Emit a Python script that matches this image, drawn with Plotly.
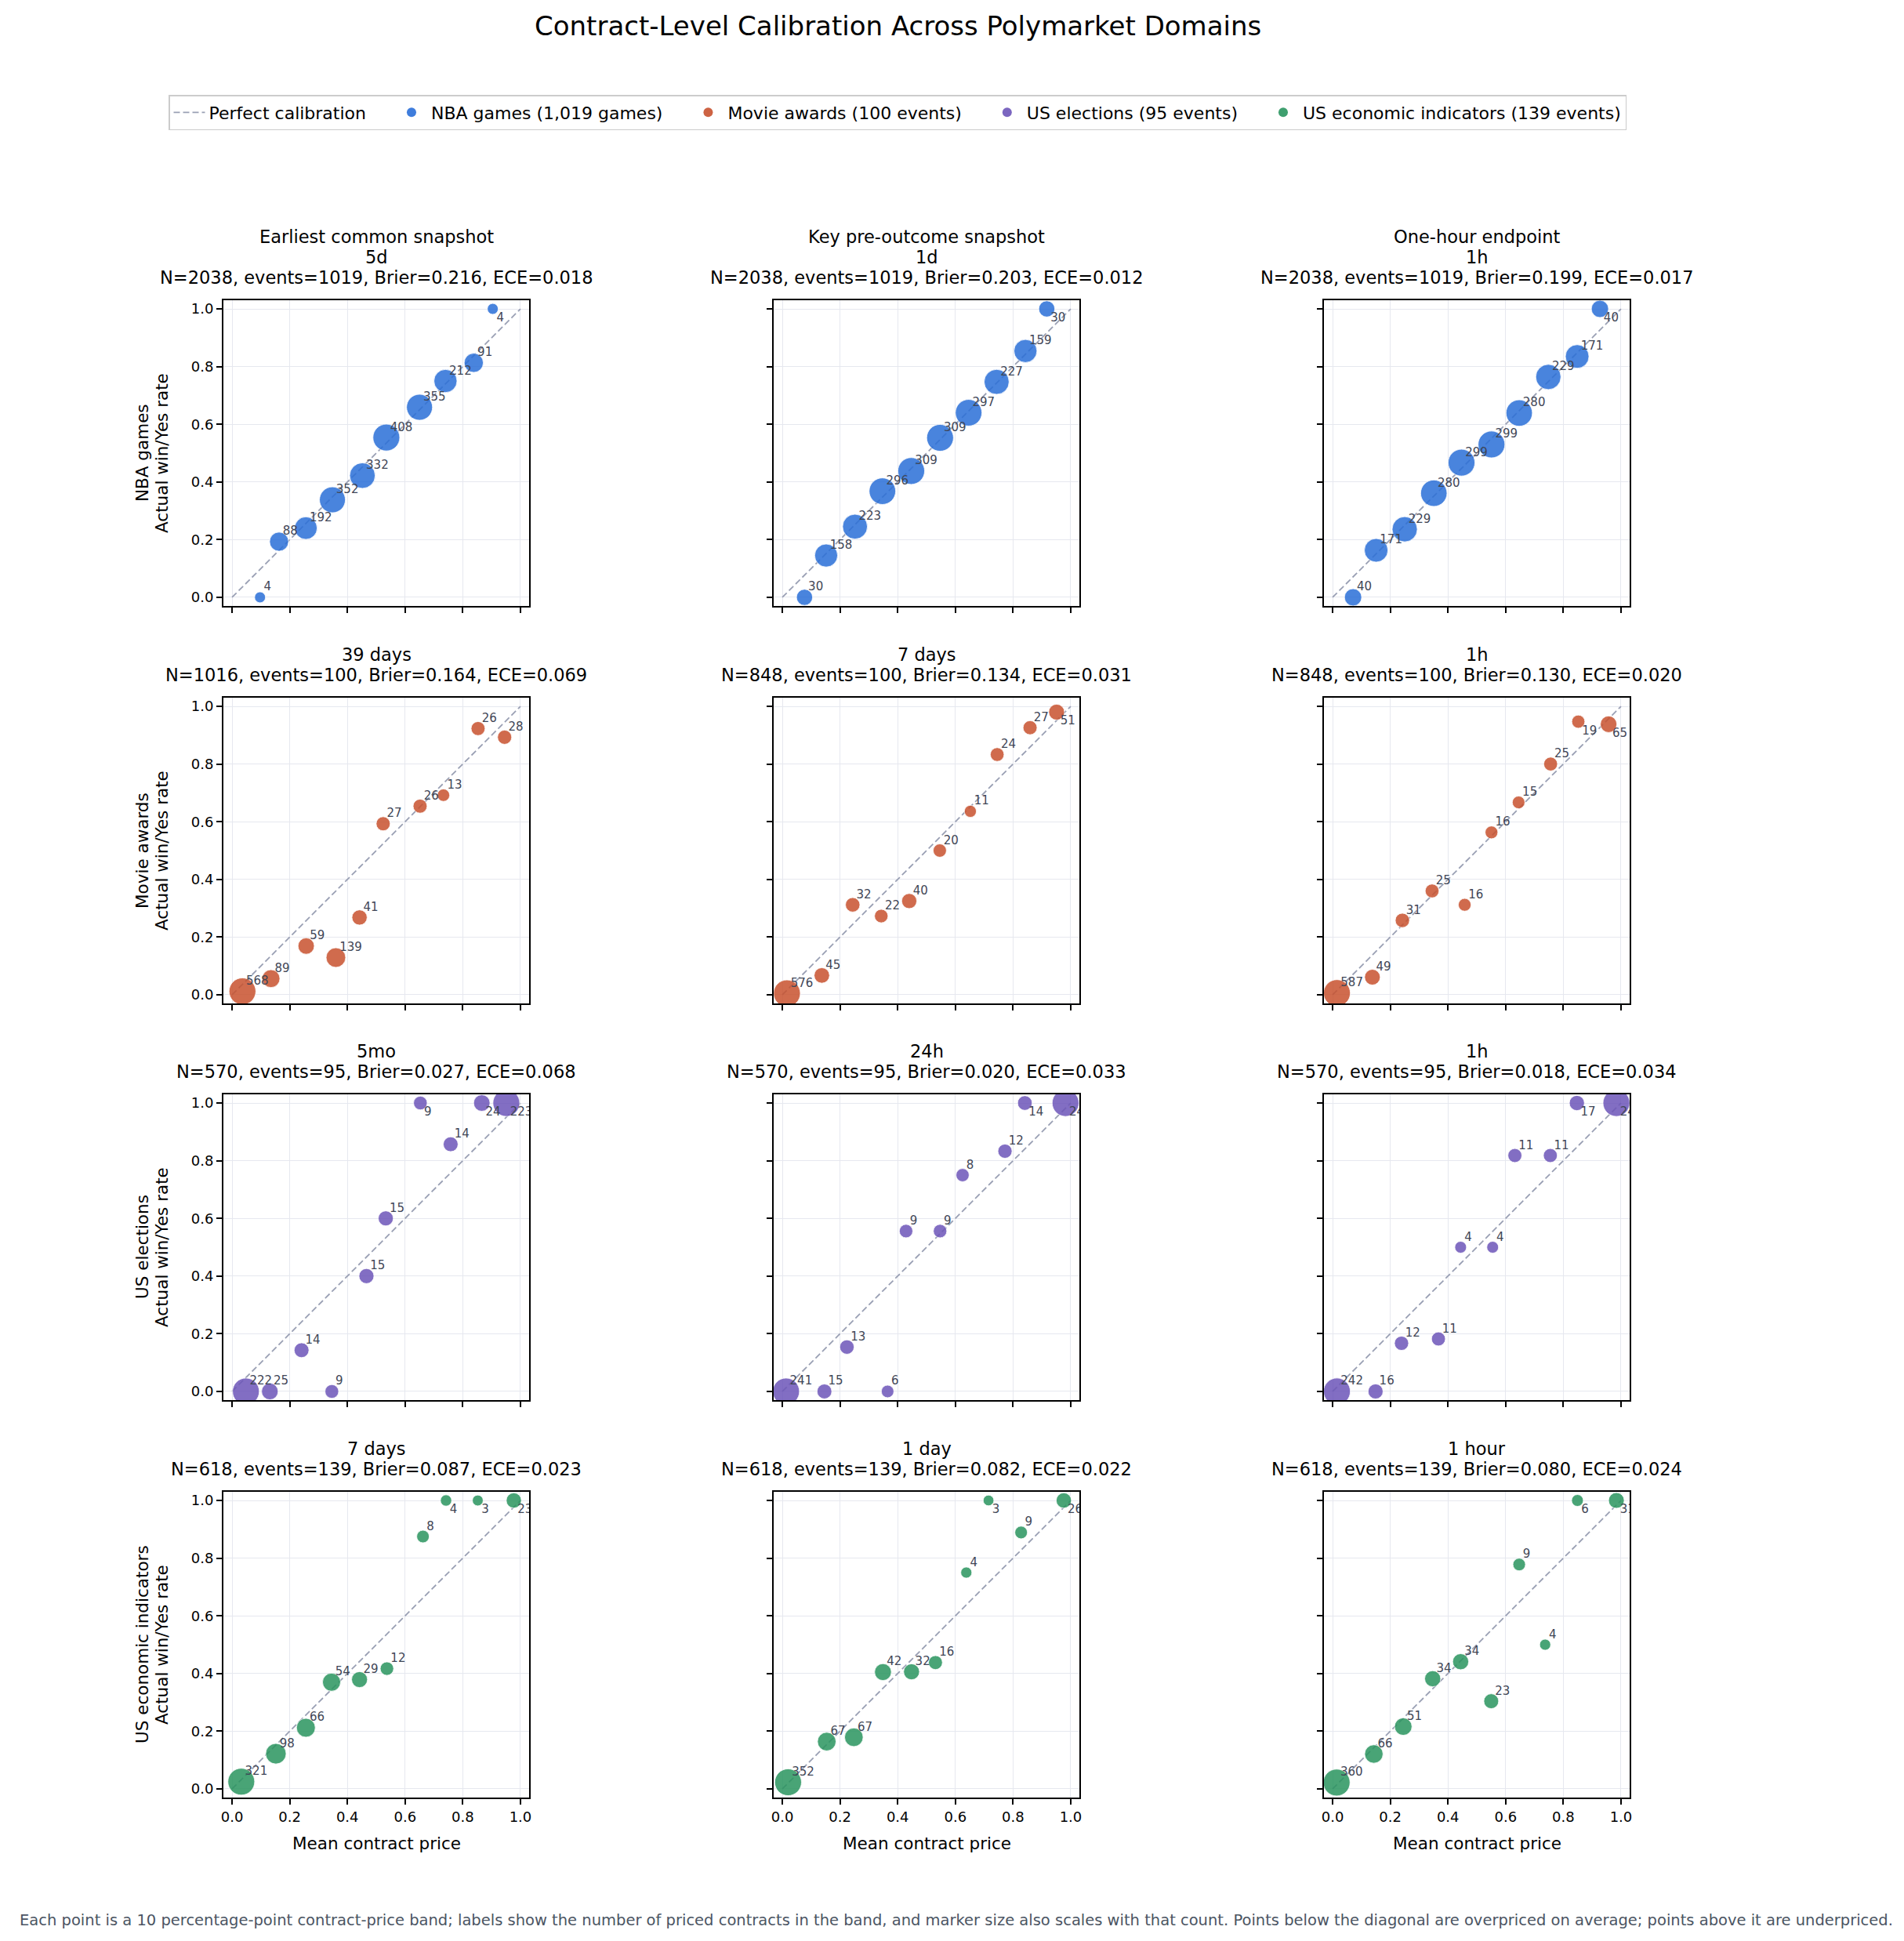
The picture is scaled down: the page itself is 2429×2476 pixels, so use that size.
import plotly.graph_objects as go

FIG_W = 2429
FIG_H = 2476
FONT = "DejaVu Sans"

# ---- data: one list per panel (price band mean, realised rate, contracts) ----
nba_5d_price = [0.097, 0.163, 0.256, 0.348, 0.452, 0.535, 0.650, 0.740, 0.838, 0.904]
nba_5d_rate = [0.0, 0.193, 0.240, 0.338, 0.422, 0.554, 0.659, 0.750, 0.813, 1.0]
nba_5d_count = [4, 88, 192, 352, 332, 408, 355, 212, 91, 4]

nba_1d_price = [0.077, 0.152, 0.252, 0.347, 0.447, 0.547, 0.646, 0.743, 0.843, 0.917]
nba_1d_rate = [0.0, 0.145, 0.245, 0.368, 0.438, 0.553, 0.640, 0.747, 0.854, 1.0]
nba_1d_count = [30, 158, 223, 296, 309, 309, 297, 227, 159, 30]

nba_1h_price = [0.071, 0.151, 0.250, 0.351, 0.447, 0.551, 0.647, 0.748, 0.848, 0.927]
nba_1h_rate = [0.0, 0.163, 0.236, 0.361, 0.467, 0.530, 0.639, 0.764, 0.835, 1.0]
nba_1h_count = [40, 171, 229, 280, 299, 299, 280, 229, 171, 40]

movie_39d_price = [0.036, 0.135, 0.257, 0.360, 0.442, 0.524, 0.652, 0.733, 0.853, 0.945]
movie_39d_rate = [0.012, 0.056, 0.169, 0.129, 0.268, 0.593, 0.654, 0.692, 0.923, 0.893]
movie_39d_count = [568, 89, 59, 139, 41, 27, 26, 13, 26, 28]

movie_7d_price = [0.016, 0.137, 0.244, 0.343, 0.440, 0.546, 0.652, 0.745, 0.859, 0.951]
movie_7d_rate = [0.005, 0.067, 0.312, 0.273, 0.325, 0.500, 0.636, 0.833, 0.926, 0.980]
movie_7d_count = [576, 45, 32, 22, 40, 20, 11, 24, 27, 51]

movie_1h_price = [0.015, 0.138, 0.242, 0.345, 0.458, 0.551, 0.645, 0.756, 0.852, 0.957]
movie_1h_rate = [0.006, 0.061, 0.258, 0.360, 0.312, 0.563, 0.667, 0.800, 0.947, 0.938]
movie_1h_count = [587, 49, 31, 25, 16, 16, 15, 25, 19, 65]

elec_5mo_price = [0.048, 0.131, 0.241, 0.346, 0.466, 0.533, 0.653, 0.758, 0.866, 0.951]
elec_5mo_rate = [0.0, 0.0, 0.143, 0.0, 0.400, 0.600, 1.0, 0.857, 1.0, 1.0]
elec_5mo_count = [222, 25, 14, 9, 15, 15, 9, 14, 24, 223]

elec_24h_price = [0.013, 0.146, 0.224, 0.365, 0.429, 0.547, 0.625, 0.772, 0.841, 0.982]
elec_24h_rate = [0.0, 0.0, 0.154, 0.0, 0.556, 0.556, 0.750, 0.833, 1.0, 1.0]
elec_24h_count = [241, 15, 13, 6, 9, 9, 8, 12, 14, 243]

elec_1h_price = [0.015, 0.149, 0.239, 0.367, 0.444, 0.555, 0.632, 0.755, 0.847, 0.984]
elec_1h_rate = [0.0, 0.0, 0.167, 0.182, 0.500, 0.500, 0.818, 0.818, 1.0, 1.0]
elec_1h_count = [242, 16, 12, 11, 4, 4, 11, 11, 17, 242]

econ_7d_price = [0.032, 0.152, 0.256, 0.345, 0.442, 0.537, 0.662, 0.742, 0.852, 0.977]
econ_7d_rate = [0.025, 0.122, 0.212, 0.370, 0.379, 0.417, 0.875, 1.0, 1.0, 1.0]
econ_7d_count = [321, 98, 66, 54, 29, 12, 8, 4, 3, 23]

econ_1d_price = [0.020, 0.154, 0.248, 0.349, 0.448, 0.531, 0.638, 0.715, 0.828, 0.976]
econ_1d_rate = [0.023, 0.164, 0.179, 0.405, 0.406, 0.438, 0.750, 1.0, 0.889, 1.0]
econ_1d_count = [352, 67, 67, 42, 32, 16, 4, 3, 9, 26]

econ_1h_price = [0.014, 0.143, 0.245, 0.347, 0.444, 0.550, 0.647, 0.737, 0.849, 0.984]
econ_1h_rate = [0.022, 0.121, 0.216, 0.382, 0.441, 0.304, 0.778, 0.500, 1.0, 1.0]
econ_1h_count = [360, 66, 51, 34, 34, 23, 9, 4, 6, 31]

row_names = ["NBA games", "Movie awards", "US elections", "US economic indicators"]
legend_names = [
    "NBA games (1,019 games)",
    "Movie awards (100 events)",
    "US elections (95 events)",
    "US economic indicators (139 events)",
]
row_colors = ["#2a6fd8", "#c8522f", "#6d55b9", "#2a955f"]

panel_titles = [
    [["Earliest common snapshot", "5d", "N=2038, events=1019, Brier=0.216, ECE=0.018"],
     ["Key pre-outcome snapshot", "1d", "N=2038, events=1019, Brier=0.203, ECE=0.012"],
     ["One-hour endpoint", "1h", "N=2038, events=1019, Brier=0.199, ECE=0.017"]],
    [["39 days", "N=1016, events=100, Brier=0.164, ECE=0.069"],
     ["7 days", "N=848, events=100, Brier=0.134, ECE=0.031"],
     ["1h", "N=848, events=100, Brier=0.130, ECE=0.020"]],
    [["5mo", "N=570, events=95, Brier=0.027, ECE=0.068"],
     ["24h", "N=570, events=95, Brier=0.020, ECE=0.033"],
     ["1h", "N=570, events=95, Brier=0.018, ECE=0.034"]],
    [["7 days", "N=618, events=139, Brier=0.087, ECE=0.023"],
     ["1 day", "N=618, events=139, Brier=0.082, ECE=0.022"],
     ["1 hour", "N=618, events=139, Brier=0.080, ECE=0.024"]],
]

panels = [
    [(nba_5d_price, nba_5d_rate, nba_5d_count),
     (nba_1d_price, nba_1d_rate, nba_1d_count),
     (nba_1h_price, nba_1h_rate, nba_1h_count)],
    [(movie_39d_price, movie_39d_rate, movie_39d_count),
     (movie_7d_price, movie_7d_rate, movie_7d_count),
     (movie_1h_price, movie_1h_rate, movie_1h_count)],
    [(elec_5mo_price, elec_5mo_rate, elec_5mo_count),
     (elec_24h_price, elec_24h_rate, elec_24h_count),
     (elec_1h_price, elec_1h_rate, elec_1h_count)],
    [(econ_7d_price, econ_7d_rate, econ_7d_count),
     (econ_1d_price, econ_1d_rate, econ_1d_count),
     (econ_1h_price, econ_1h_rate, econ_1h_count)],
]

FOOTER = (
    "Each point is a 10 percentage-point contract-price band; labels show the number of "
    "priced contracts in the band, and marker size also scales with that count. Points below "
    "the diagonal are overpriced on average; points above it are underpriced."
)

# ---- layout geometry (pixels) ----
COL_LEFT = [285, 987, 1689]
ROW_TOP = [383, 890, 1396, 1903]
PANEL = 390
AX_RANGE = [-0.03, 1.03]
DIAG_COLOR = "#9aa0b4"
LABEL_COLOR = "#3f4656"
TITLE_LINE_GAP = 26


def fx(px):
    return px / FIG_W


def fy(px):
    return 1 - px / FIG_H


def marker_px(counts):
    top = max(counts)
    return [2.08 * (20 + 250 * (n / top) ** 0.5) ** 0.5 for n in counts]


def text_note(text, x, y, size, **kw):
    return dict(text=text, x=fx(x), y=fy(y), xref="paper", yref="paper",
                xanchor=kw.pop("xanchor", "center"), yanchor=kw.pop("yanchor", "middle"),
                showarrow=False,
                font=dict(family=FONT, size=size, color=kw.pop("color", "black")), **kw)


fig = go.Figure()
annotations = []

for r in range(4):
    for c in range(3):
        idx = r * 3 + c + 1
        suffix = "" if idx == 1 else str(idx)
        xa, ya = "x" + suffix, "y" + suffix
        price, rate, count = panels[r][c]

        fig.add_trace(go.Scatter(
            x=[0, 1], y=[0, 1], mode="lines", xaxis=xa, yaxis=ya,
            line=dict(color=DIAG_COLOR, width=1.8, dash="8px,4px"),
            showlegend=False, hoverinfo="skip",
        ))
        fig.add_trace(go.Scatter(
            x=price, y=rate, mode="markers", xaxis=xa, yaxis=ya,
            marker=dict(size=marker_px(count), color=row_colors[r], opacity=0.85,
                        line=dict(color="white", width=0.8)),
            showlegend=False,
        ))
        fig.add_trace(go.Scatter(
            x=price, y=rate, mode="markers+text", xaxis=xa, yaxis=ya,
            text=[str(n) for n in count],
            textposition=["bottom right" if v > 0.93 else "top right" for v in rate],
            textfont=dict(family=FONT, size=15, color=LABEL_COLOR),
            marker=dict(size=6, opacity=0),
            cliponaxis=True, showlegend=False, hoverinfo="skip",
        ))

        left = COL_LEFT[c]
        top = ROW_TOP[r]
        axis_style = dict(
            range=AX_RANGE, tickvals=[0, 0.2, 0.4, 0.6, 0.8, 1.0], tickformat=".1f",
            showline=True, linecolor="black", linewidth=2, mirror=True,
            ticks="outside", ticklen=7, tickwidth=2, tickcolor="black",
            showgrid=True, gridcolor="#e6e8ef", gridwidth=1, zeroline=False,
            tickfont=dict(family=FONT, size=18, color="black"),
        )
        fig.update_layout(**{
            "xaxis" + suffix: dict(axis_style, domain=[fx(left), fx(left + PANEL)],
                                   anchor=ya, showticklabels=(r == 3)),
            "yaxis" + suffix: dict(axis_style, domain=[fy(top + PANEL), fy(top)],
                                   anchor=xa, showticklabels=(c == 0)),
        })

        lines = panel_titles[r][c]
        for k, line in enumerate(reversed(lines)):
            annotations.append(text_note(line, left + PANEL / 2,
                                         top - 29 - k * TITLE_LINE_GAP, 22.5))
        if c == 0:
            annotations.append(text_note(row_names[r], 181, top + PANEL / 2, 21.5,
                                         textangle=-90))
            annotations.append(text_note("Actual win/Yes rate", 206, top + PANEL / 2, 21.5,
                                         textangle=-90))
        if r == 3:
            annotations.append(text_note("Mean contract price", left + PANEL / 2, 2351, 21.5))

# legend-only entries
pad = "\u00a0" * 4
fig.add_trace(go.Scatter(
    x=[None], y=[None], mode="lines", name="Perfect calibration" + pad,
    line=dict(color=DIAG_COLOR, width=1.8, dash="8px,4px"),
))
for i, (name, color) in enumerate(zip(legend_names, row_colors)):
    fig.add_trace(go.Scatter(
        x=[None], y=[None], mode="markers", name=name + (pad if i < 3 else ""),
        marker=dict(size=12, color=color, opacity=0.9),
    ))

annotations.append(text_note("Contract-Level Calibration Across Polymarket Domains",
                             1145, 33, 34))
annotations.append(text_note(FOOTER, 1220, 2449, 19.5, color="#4b5563"))

fig.update_layout(
    width=FIG_W, height=FIG_H,
    margin=dict(l=0, r=0, t=0, b=0, autoexpand=False),
    paper_bgcolor="white", plot_bgcolor="white",
    font=dict(family=FONT, color="black"),
    annotations=annotations,
    legend=dict(
        orientation="h", x=fx(1145), xanchor="center", y=fy(121), yanchor="top",
        bordercolor="#cccccc", borderwidth=1.5, bgcolor="white",
        font=dict(family=FONT, size=22, color="black"), itemwidth=40,
    ),
)

fig.write_html("out.html", config={"displayModeBar": False},
               post_script="document.body.style.margin='0';")
